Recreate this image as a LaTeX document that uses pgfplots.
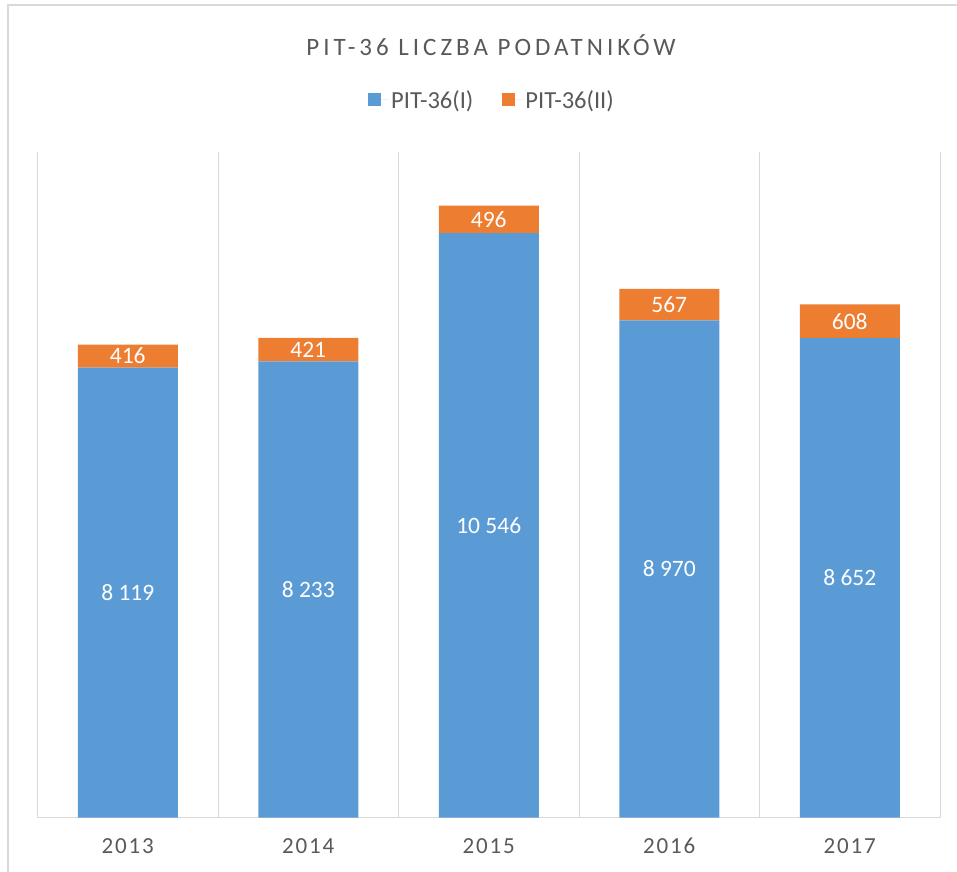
\documentclass[border=0pt]{standalone}
\usepackage{fontspec}
\setmainfont{Carlito}
\newfontfamily\titlefont[LetterSpace=16]{Carlito}
\newfontfamily\tickfont[LetterSpace=8]{Carlito}
\usepackage{pgfplots}
\pgfplotsset{compat=1.18}
\definecolor{cblue}{HTML}{5B9BD5}
\definecolor{corange}{HTML}{ED7D31}
\definecolor{cgrid}{HTML}{D9D9D9}
\definecolor{ctext}{HTML}{595959}
\begin{document}
\begin{tikzpicture}[x=1pt,y=1pt]
\useasboundingbox (0,0) rectangle (957,871);
\draw[cgrid, line width=1.5pt] (8,-2) -- (8,866) -- (960,866);
\begin{axis}[
  at={(37.5pt,53.5pt)}, anchor=south west,
  scale only axis, width=902.5pt, height=665pt,
  ybar stacked, bar width=100pt,
  xmin=-0.5, xmax=4.5, ymin=0, ymax=12000,
  enlargelimits=false,
  axis x line*=bottom, axis y line=none,
  x axis line style={draw=cgrid, line width=1pt},
  xtick={0,1,2,3,4},
  xticklabels={2013,2014,2015,2016,2017},
  xticklabel style={font=\tickfont\fontsize{23}{27}\selectfont, text=ctext, text height=15pt, text depth=0pt, yshift=-17pt},
  minor xtick={-0.5,0.5,1.5,2.5,3.5,4.5},
  xminorgrids=true,
  minor grid style={draw=cgrid, line width=1pt},
  major tick length=0pt, minor tick length=0pt,
  ytick=\empty,
  legend columns=2,
  legend style={at={(0.5036,1.079)}, anchor=center, draw=none, fill=none,
    font=\fontsize{24.5}{29}\selectfont, text=ctext,
    /tikz/every even column/.append style={column sep=27pt}},
  legend image code/.code={\fill[#1] (0pt,-6.5pt) rectangle (13pt,6.5pt); \path (0pt,0pt) -- (21pt,0pt);},
]
\addplot[fill=cblue, draw=none] coordinates {(0,8119) (1,8233) (2,10546) (3,8970) (4,8652)};
\addlegendentry{PIT-36(I)}
\addplot[fill=corange, draw=none] coordinates {(0,416) (1,421) (2,496) (3,567) (4,608)};
\addlegendentry{PIT-36(II)}
\end{axis}
\begin{axis}[
  at={(37.5pt,53.5pt)}, anchor=south west,
  scale only axis, width=902.5pt, height=665pt,
  xmin=-0.5, xmax=4.5, ymin=0, ymax=12000,
  enlargelimits=false, hide axis,
  nodes near coords, point meta=explicit symbolic,
  every node near coord/.append style={anchor=center, text=white, font=\fontsize{23.5}{28}\selectfont},
]
\addplot[only marks, mark=none] coordinates {
  (0,4059.5)[8 119] (1,4116.5)[8 233] (2,5273)[10 546] (3,4485)[8 970] (4,4326)[8 652]};
\addplot[only marks, mark=none] coordinates {
  (0,8327)[416] (1,8443.5)[421] (2,10794)[496] (3,9253.5)[567] (4,8956)[608]};
\end{axis}
\node[font=\titlefont\fontsize{25}{30}\selectfont, text=ctext] at (491,826) {PIT-36 LICZBA PODATNIKÓW};
\end{tikzpicture}
\end{document}
